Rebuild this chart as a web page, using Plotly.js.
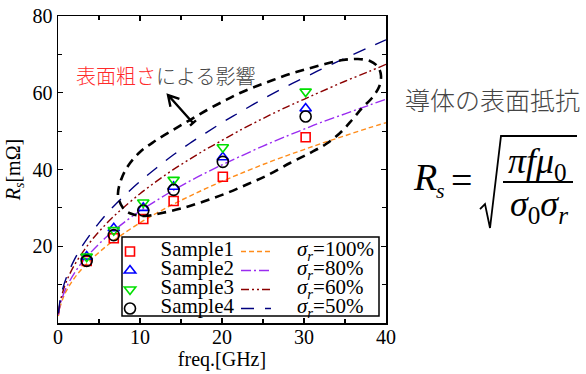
<!DOCTYPE html>
<html><head><meta charset="utf-8">
<script src="https://cdn.plot.ly/plotly-3.0.1.min.js"></script>
<style>html,body{margin:0;padding:0;background:#fff}#chart{width:586px;height:374px}</style>
</head><body><div id="chart"></div>
<script>
// ---- data ----
const sampleFreq = [3.5, 6.8, 10.4, 14.1, 20.1, 30.2];
const sample1 = [16.2, 22.1, 27.1, 31.8, 38.1, 48.4];
const sample2 = [17.3, 24.7, 30.0, 35.5, 43.2, 55.9];
const sample3 = [17.3, 24.2, 31.4, 37.3, 45.8, 60.3];
const sample4 = [16.2, 22.9, 29.3, 34.7, 42.0, 53.8];
const sampleNames = ['Sample1', 'Sample2', 'Sample3', 'Sample4'];

const curveFreq = [0.05, 0.2, 0.5, 1, 2, 3, 4, 5, 6, 7, 8, 10, 12, 14, 16, 18, 20, 22, 25, 28, 30, 32, 35, 38, 40];
const rs100 = [1.8, 3.7, 5.8, 8.3, 11.7, 14.3, 16.5, 18.4, 20.2, 21.8, 23.3, 26.1, 28.6, 30.9, 33.0, 35.0, 36.9, 38.7, 41.3, 43.7, 45.2, 46.7, 48.8, 50.9, 52.2];
const rs80  = [2.1, 4.1, 6.5, 9.2, 13.0, 16.0, 18.4, 20.6, 22.6, 24.4, 26.1, 29.2, 31.9, 34.5, 36.9, 39.1, 41.2, 43.2, 46.1, 48.8, 50.5, 52.2, 54.5, 56.8, 58.3];
const rs60  = [2.4, 4.8, 7.5, 10.7, 15.1, 18.4, 21.3, 23.8, 26.1, 28.2, 30.1, 33.7, 36.9, 39.9, 42.6, 45.2, 47.6, 50.0, 53.3, 56.4, 58.3, 60.2, 63.0, 65.6, 67.4];
const rs50  = [2.6, 5.2, 8.3, 11.7, 16.5, 20.2, 23.3, 26.1, 28.6, 30.9, 33.0, 36.9, 40.4, 43.7, 46.7, 49.5, 52.2, 54.7, 58.4, 61.8, 63.9, 66.0, 69.0, 71.9, 73.8];
const curveLabels = ['100%', '80%', '60%', '50%'];

const xTicks = [0, 10, 20, 30, 40];
const yTickVals = [0, 20, 40, 60, 80];
const yTickText = ['', '20', '40', '60', '80'];

// ---- layout helpers (pixel -> paper) ----
const L = 58, R = 386, T = 16, B = 323;
const px = x => (x - L) / (R - L);
const py = y => (B - y) / (B - T);
const SERIF = 'Liberation Serif';
const CJK = 'Noto Sans CJK JP';
const NB = '\u00a0';
const big = s => '<span style="font-size:21px">' + s + '</span>';

const curveStyles = [
  {color: '#ff8c1a', dash: '5px,3px'},
  {color: '#9a2cf0', dash: '10px,3px,2px,3px'},
  {color: '#8b0000', dash: '8px,3px,2px,3px,2px,3px'},
  {color: '#00007f', dash: '13px,11px'}
];
const curveData = [rs100, rs80, rs60, rs50];
const traces = [];
curveData.forEach((ys, i) => traces.push({
  x: curveFreq, y: ys, type: 'scatter', mode: 'lines',
  name: big(NB + NB + NB + NB + '<i>σ</i><sub><i>r</i></sub>=' + curveLabels[i]),
  line: {color: curveStyles[i].color, dash: curveStyles[i].dash, width: 1.4, shape: 'spline'},
  legend: 'legend2', hoverinfo: 'skip'
}));
const markerStyles = [
  {symbol: 'square-open', color: '#ff0000', size: 9},
  {symbol: 'triangle-up-open', color: '#0000ff', size: 10},
  {symbol: 'triangle-down-open', color: '#00e000', size: 10},
  {symbol: 'circle-open', color: '#000000', size: 11}
];
[sample1, sample2, sample3, sample4].forEach((ys, i) => traces.push({
  x: sampleFreq, y: ys, type: 'scatter', mode: 'markers', name: big(NB + NB + sampleNames[i]),
  marker: {symbol: markerStyles[i].symbol, color: markerStyles[i].color, size: markerStyles[i].size, line: {width: 1.6, color: markerStyles[i].color}},
  legend: 'legend'
}));

// smooth closed path through traced outline of the dashed loop
const loopPts = [[118,195],[121,180],[128,166],[140,152],[155,141],[173,130],[190,120],[207,110],[224,101],[240,93],[257,86],[273,80],[290,74],[307,69],[325,64],[343,60],[358,59],[370,61],[378,67],[381,76],[379,87],[372,98],[362,108],[352,120],[340,133],[326,144],[310,153],[290,163],[268,175],[248,184],[227,193],[205,201],[183,208],[162,213],[145,216],[132,214],[123,208]];
function smoothClosed(pts) {
  const n = pts.length;
  const f = p => px(p[0]).toFixed(4) + ',' + py(p[1]).toFixed(4);
  let d = 'M' + f(pts[0]);
  for (let i = 0; i < n; i++) {
    const p0 = pts[(i - 1 + n) % n], p1 = pts[i], p2 = pts[(i + 1) % n], p3 = pts[(i + 2) % n];
    const c1 = [p1[0] + (p2[0] - p0[0]) / 6, p1[1] + (p2[1] - p0[1]) / 6];
    const c2 = [p2[0] - (p3[0] - p1[0]) / 6, p2[1] - (p3[1] - p1[1]) / 6];
    d += ' C' + f(c1) + ' ' + f(c2) + ' ' + f(p2);
  }
  return d + ' Z';
}
function arrowPath(tail, head) {
  const dx = tail[0] - head[0], dy = tail[1] - head[1];
  const len = Math.hypot(dx, dy), ux = dx / len, uy = dy / len;
  const a = Math.PI / 6, wl = 12;
  const w1 = [head[0] + wl * (ux * Math.cos(a) - uy * Math.sin(a)), head[1] + wl * (ux * Math.sin(a) + uy * Math.cos(a))];
  const w2 = [head[0] + wl * (ux * Math.cos(-a) - uy * Math.sin(-a)), head[1] + wl * (ux * Math.sin(-a) + uy * Math.cos(-a))];
  const b1 = [tail[0] + 4 * uy, tail[1] - 4 * ux], b2 = [tail[0] - 4 * uy, tail[1] + 4 * ux];
  const f = p => px(p[0]).toFixed(4) + ',' + py(p[1]).toFixed(4);
  return 'M' + f(tail) + ' L' + f(head) + ' M' + f(w1) + ' L' + f(head) + ' L' + f(w2) + ' M' + f(b1) + ' L' + f(b2);
}
const sqrtPts = [[480,209],[485,204],[490,228],[501,136],[577,136]];
const sqrtPath = 'M' + sqrtPts.map(p => px(p[0]).toFixed(4) + ',' + py(p[1]).toFixed(4)).join(' L');

const shapes = [
  {type: 'path', xref: 'paper', yref: 'paper', path: smoothClosed(loopPts), line: {color: '#000', width: 2.6, dash: '9px,6px'}, layer: 'above'},
  {type: 'path', xref: 'paper', yref: 'paper', path: arrowPath([193,123],[168,95]), line: {color: '#000', width: 2.4}, layer: 'above'},
  {type: 'rect', xref: 'paper', yref: 'paper', x0: px(122), x1: px(379), y0: py(316), y1: py(237), fillcolor: '#fff', line: {color: '#000', width: 1.5}, layer: 'above'},
  {type: 'path', xref: 'paper', yref: 'paper', path: sqrtPath, line: {color: '#000', width: 1.8}},
  {type: 'line', xref: 'paper', yref: 'paper', x0: px(503), x1: px(573), y0: py(182), y1: py(182), line: {color: '#000', width: 1.8}}
];

const ann = (text, x, y, size, opts) => Object.assign({text, xref: 'paper', yref: 'paper', x: px(x), y: py(y), showarrow: false, xanchor: 'left', yanchor: 'middle', font: {family: SERIF, size, color: '#000'}}, opts || {});
const annotations = [
  ann('<span style="color:#ff2a2a">表面粗さ</span>による影響', 74, 75, 20, {font: {family: CJK, size: 20, color: '#444', weight: 300}}),
  ann('導体の表面抵抗', 403, 99, 25, {font: {family: CJK, size: 25, color: '#444', weight: 300}}),
  ann('<i>R</i>', 411, 177, 38),
  ann('<i>s</i>', 434, 190, 22),
  ann('=', 461, 180, 38, {xanchor: 'center'}),
  ann('<i>πfμ</i><sub>0</sub>', 537, 163, 36, {xanchor: 'center'}),
  ann('<i>σ</i><sub>0</sub><i>σ</i><sub><i>r</i></sub>', 539, 206, 36, {xanchor: 'center'})
];

const axisCommon = {showline: true, linecolor: '#000', linewidth: 1.5, mirror: 'ticks', ticks: 'inside', ticklen: 5, tickwidth: 1.2, tickcolor: '#000', showgrid: false, zeroline: false, tickfont: {family: SERIF, size: 20, color: '#000'}};
const layout = {
  width: 586, height: 374,
  font: {family: SERIF, color: '#000'},
  margin: {l: L, r: 586 - R, t: T, b: 374 - B},
  paper_bgcolor: '#fff', plot_bgcolor: '#fff',
  xaxis: Object.assign({}, axisCommon, {range: [0, 40], tickmode: 'array', tickvals: xTicks, ticklabelstandoff: -5, minor: {dtick: 5, ticks: 'inside', ticklen: 4, tickcolor: '#000'},
    title: {text: 'freq.[GHz]', font: {family: SERIF, size: 20, color: '#000'}, standoff: 0}}),
  yaxis: Object.assign({}, axisCommon, {range: [0, 80], tickmode: 'array', tickvals: yTickVals, ticktext: yTickText, minor: {dtick: 10, ticks: 'inside', ticklen: 4, tickcolor: '#000'},
    title: {text: '<i>R</i><sub><i>s</i></sub>[mΩ]', font: {family: SERIF, size: 20, color: '#000'}, standoff: 6}}),
  showlegend: true,
  legend: {x: px(110), y: py(237), xanchor: 'left', yanchor: 'top', bgcolor: 'rgba(0,0,0,0)', borderwidth: 0, font: {family: SERIF, size: 12, color: '#000'}, tracegroupgap: 0, itemwidth: 30},
  legend2: {x: px(236), y: py(237), xanchor: 'left', yanchor: 'top', bgcolor: 'rgba(0,0,0,0)', borderwidth: 0, font: {family: SERIF, size: 12, color: '#000'}, tracegroupgap: 0, itemwidth: 30},
  shapes, annotations
};
Plotly.newPlot('chart', traces, layout, {staticPlot: true, displayModeBar: false});
</script></body></html>
